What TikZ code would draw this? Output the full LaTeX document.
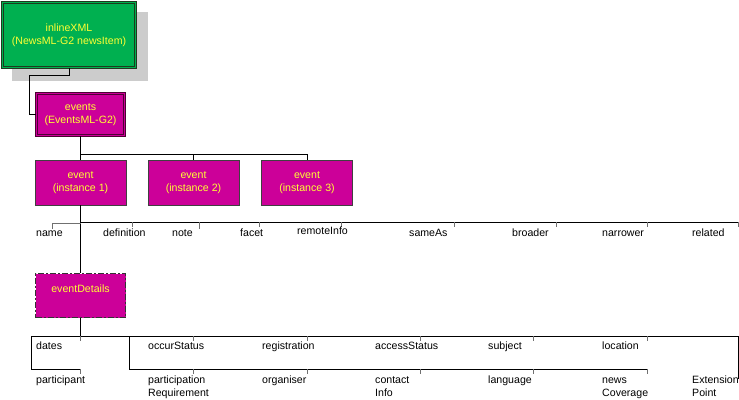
\documentclass[tikz,border=0pt]{standalone}
\usepackage{fontspec}
\setmainfont{Liberation Sans}
\definecolor{grn}{HTML}{00B050}
\definecolor{mag}{HTML}{CC0099}
\definecolor{ylw}{HTML}{FFFF33}
\definecolor{dk}{HTML}{1E3A1E}
\definecolor{dkp}{HTML}{4D0033}
\definecolor{tk}{HTML}{707070}
\newcommand{\lblfont}{\fontsize{10.6}{13}\selectfont}
\begin{document}
\begin{tikzpicture}[x=1pt,y=-1pt,
  box/.style={fill=mag, minimum width=91pt, minimum height=45pt, inner sep=0pt,
    align=center, text=ylw, font=\lblfont},
  dblbox/.style={box, draw=dkp, double=mag, double distance=1.6pt, line width=0.8pt,
    minimum width=88pt, minimum height=42pt},
  evbox/.style={box, draw=black!75, line width=0.8pt},
  conn/.style={draw=black, line width=1pt},
  tick/.style={draw=tk, line width=1pt},
  lbl/.style={anchor=base west, inner sep=0pt, font=\lblfont, align=left, text=black}]
\useasboundingbox (0,0) rectangle (739,399);
% shadow
\fill[black!20] (12,12) rectangle (148,81);
% nodes
\node[box, fill=grn, draw=dk, double=grn, double distance=1.6pt, line width=0.8pt,
  minimum width=133pt, minimum height=65pt] (inlineXML) at (69,35)
  {inlineXML\\(NewsML-G2 newsItem)};
\node[dblbox] (events) at (80.5,114.5) {events\\(EventsML-G2)};
\node[evbox] (event1) at (80.5,182.5) {event\\(instance 1)};
\node[evbox] (event2) at (193.5,182.5) {event\\(instance 2)};
\node[evbox] (event3) at (307,182.5) {event\\(instance 3)};
\node[box, draw=black!80, line width=1.2pt, dash pattern=on 6pt off 2pt on 2pt off 2pt,
  minimum width=90pt, minimum height=44pt, text height=8pt, text depth=15pt]
  (eventDetails) at (80.5,295.5) {eventDetails};
% connectors top
\coordinate (j1) at (29,75);
\draw[conn] (inlineXML.south) |- (j1) |- (events.west);
\coordinate (b1) at (80.5,154);
\draw[conn] (events.south) -- (b1) -| (event3.north);
\draw[conn] (b1) -| (event2.north);
\draw[conn] (b1) -- (event1.north);
% event properties bus
\coordinate (b2) at (80.5,222);
\coordinate (b2e) at (738,222);
\draw[conn] (event1.south) -- (eventDetails.north);
\draw[conn] (b2) -- (b2e);
\draw[tick] (80.5,223) -- (52,223) -- (52,229);
\foreach \x/\l in {132/5,199/7,259/5,341/5,454/5,556/5,647/5,738/5}
  \draw[tick] (\x,222) -- ++(0,\l);
\node[lbl] (name) at (36,236) {name};
\node[lbl] (definition) at (103,236) {definition};
\node[lbl] (note) at (172,236) {note};
\node[lbl] (facet) at (240,236) {facet};
\node[lbl] (remoteInfo) at (297,234) {remoteInfo};
\node[lbl] (sameAs) at (409,236) {sameAs};
\node[lbl] (broader) at (512,236) {broader};
\node[lbl] (narrower) at (602,236) {narrower};
\node[lbl] (related) at (692,236) {related};
% eventDetails bus
\coordinate (b3) at (80.5,336);
\coordinate (b3l) at (31,336);
\coordinate (b3r) at (738,336);
\coordinate (b4l) at (31,369);
\coordinate (b4a) at (80.5,369);
\coordinate (b4s) at (129,336);
\coordinate (b4b) at (129,369);
\coordinate (b4e) at (647,369);
\draw[conn] (eventDetails.south) -- (b3);
\draw[conn] (b3l) -- (b3r);
\draw[conn] (b3l) -- (b4l) -- (b4a);
\draw[conn] (b4s) -- (b4b) -- (b4e);
\draw[conn] (b3r) -- ++(0,43);
\draw[tick] (80.5,336) -- ++(0,5);
\draw[tick] (80.5,369) -- ++(0,5);
\foreach \x in {193,307,420,533,647}{
  \draw[tick] (\x,336) -- ++(0,5);
  \draw[tick] (\x,369) -- ++(0,5);
}
\node[lbl] (dates) at (36,349) {dates};
\node[lbl] (occurStatus) at (148,349) {occurStatus};
\node[lbl] (registration) at (262,349) {registration};
\node[lbl] (accessStatus) at (375,349) {accessStatus};
\node[lbl] (subject) at (488,349) {subject};
\node[lbl] (location) at (602,349) {location};
\node[lbl] (participant) at (36,383) {participant};
\node[lbl] (partReq) at (148,396) {participation\\Requirement};
\node[lbl] (organiser) at (262,383) {organiser};
\node[lbl] (contactInfo) at (375,396) {contact\\Info};
\node[lbl] (language) at (488,383) {language};
\node[lbl] (newsCoverage) at (602,396) {news\\Coverage};
\node[lbl] (extPoint) at (692,396) {Extension\\Point};
\end{tikzpicture}
\end{document}
